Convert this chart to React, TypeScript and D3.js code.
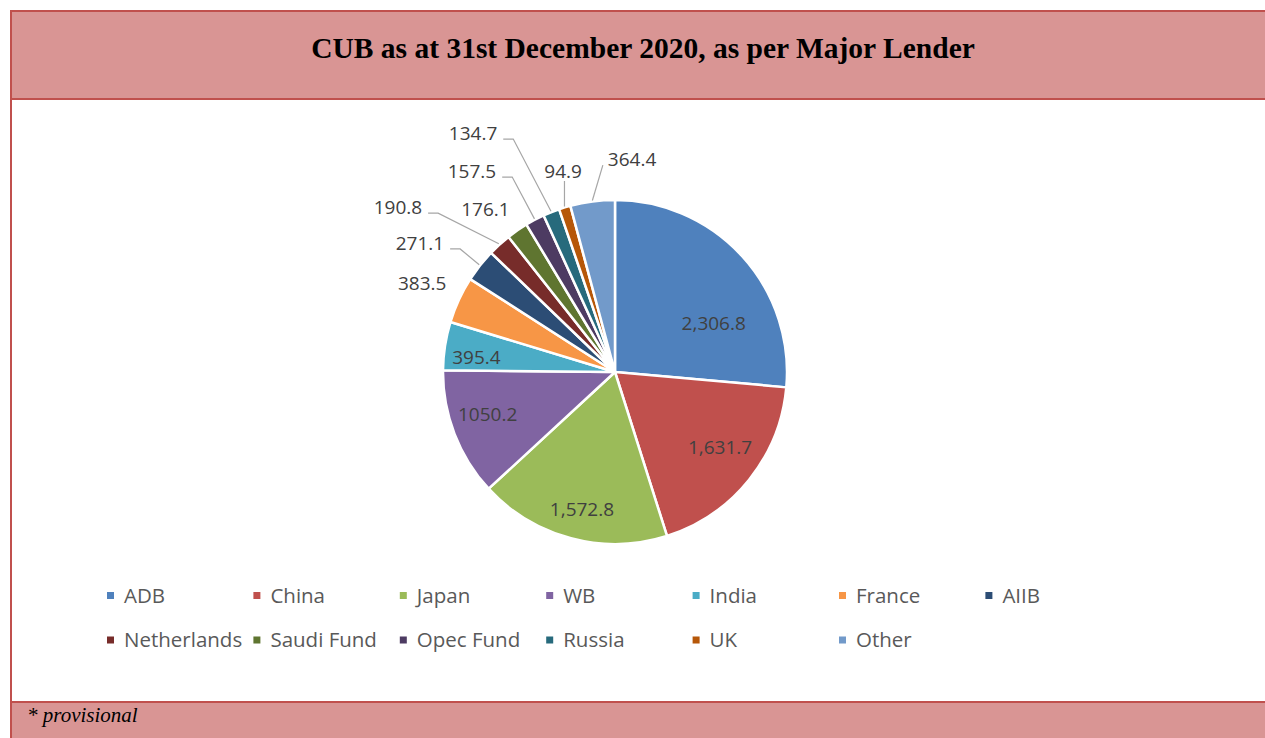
import React, { useEffect, useRef } from 'react';
import * as d3 from 'd3';

// CUB by lender, 31 Dec 2020
const lenders = ['ADB', 'China', 'Japan', 'WB', 'India', 'France', 'AIIB', 'Netherlands', 'Saudi Fund', 'Opec Fund', 'Russia', 'UK', 'Other'];
const amounts = [2306.8, 1631.7, 1572.8, 1050.2, 395.4, 383.5, 271.1, 190.8, 176.1, 157.5, 134.7, 94.9, 364.4];
const amountLabels = ['2,306.8', '1,631.7', '1,572.8', '1050.2', '395.4', '383.5', '271.1', '190.8', '176.1', '157.5', '134.7', '94.9', '364.4'];
const colors = ['#4F81BD', '#C0504D', '#9BBB59', '#8064A2', '#4BACC6', '#F79646', '#2C4D75', '#772C2A', '#5F7530', '#4D3B62', '#276A7C', '#B65708', '#729ACA'];

// label placement: [angle shift from slice middle (deg), distance as share of radius, leader line]
const labelPlacement: [number, number, boolean][] = [
  [16.2, 0.64, false], [-3.3, 0.75, false], [-1.3, 0.82, false], [2.8, 0.78, false], [-2.7, 0.81, false],
  [0, 1.235, false], [-4.8, 1.36, true], [-10.6, 1.585, true], [-3.9, 1.21, false],
  [-7.7, 1.434, true], [-9, 1.616, true], [2.5, 1.207, true], [12.1, 1.242, true]
];

const W = 1265;
const H = 738;

export default function App() {
  const svgRef = useRef<SVGSVGElement>(null);

  useEffect(() => {
    if (!svgRef.current) return;
    const svg = d3.select(svgRef.current);
    svg.selectAll('*').remove();

    const band = '#D99594';
    const edge = '#C0504D';

    // frame: title band, white body, footer band
    svg.append('rect').attr('x', 11).attr('y', 11).attr('width', W + 10).attr('height', 88).attr('fill', band);
    svg.append('rect').attr('x', 11).attr('y', 702).attr('width', W + 10).attr('height', 40).attr('fill', band);
    svg.append('line').attr('x1', 10).attr('x2', W + 10).attr('y1', 11).attr('y2', 11).attr('stroke', edge).attr('stroke-width', 2);
    svg.append('line').attr('x1', 10).attr('x2', W + 10).attr('y1', 99).attr('y2', 99).attr('stroke', edge).attr('stroke-width', 2);
    svg.append('line').attr('x1', 10).attr('x2', W + 10).attr('y1', 702).attr('y2', 702).attr('stroke', edge).attr('stroke-width', 2);
    svg.append('line').attr('x1', 11).attr('x2', 11).attr('y1', 10).attr('y2', H + 5).attr('stroke', edge).attr('stroke-width', 2);

    svg.append('text')
      .attr('x', 643).attr('y', 58)
      .attr('text-anchor', 'middle')
      .attr('font-family', '"Liberation Serif", "Times New Roman", serif')
      .attr('font-weight', 'bold')
      .attr('font-size', 29.5)
      .attr('fill', '#000')
      .text('CUB as at 31st December 2020, as per Major Lender');

    svg.append('text')
      .attr('x', 27).attr('y', 722)
      .attr('font-family', '"Liberation Serif", "Times New Roman", serif')
      .attr('font-style', 'italic')
      .attr('font-size', 21)
      .attr('fill', '#000')
      .text('* provisional');

    // pie
    const cx = 615, cy = 372, r = 172;
    const data = lenders.map((name, i) => ({ name, value: amounts[i], label: amountLabels[i], color: colors[i], i }));
    const pie = d3.pie<any>().sort(null).value(d => d.value);
    const arcs = pie(data);
    const arc = d3.arc<any>().innerRadius(0).outerRadius(r);

    const g = svg.append('g').attr('transform', `translate(${cx},${cy})`);
    g.selectAll('path.slice')
      .data(arcs)
      .enter().append('path')
      .attr('class', 'slice')
      .attr('d', arc)
      .attr('fill', d => d.data.color)
      .attr('stroke', '#fff')
      .attr('stroke-width', 2.5)
      .attr('stroke-linejoin', 'round');

    const font = '"Open Sans", "Noto Sans", sans-serif';
    arcs.forEach((a, i) => {
      const [shift, rf, leader] = labelPlacement[i];
      const mid = (a.startAngle + a.endAngle) / 2;
      const ang = mid + (shift * Math.PI) / 180;
      const lx = Math.sin(ang) * r * rf;
      const ly = -Math.cos(ang) * r * rf;
      const t = g.append('text')
        .attr('x', lx).attr('y', ly)
        .attr('dy', '0.35em')
        .attr('text-anchor', 'middle')
        .attr('font-family', font)
        .attr('font-size', 19)
        .attr('fill', '#404040')
        .text(a.data.label);

      if (leader) {
        const tw = (t.node() as SVGTextElement).getComputedTextLength();
        const left = lx - tw / 2, right = lx + tw / 2, bottom = ly + 6;
        const tx = Math.sin(mid) * (r + 1);
        const ty = -Math.cos(mid) * (r + 1);
        let pts: [number, number][];
        if (tx >= left && tx <= right) {
          pts = [[tx, bottom + 4], [tx, ty]];
        } else if (tx > right) {
          pts = [[right + 6, bottom], [right + 16, bottom], [tx, ty]];
        } else {
          pts = [[left - 5, bottom], [tx, ty]];
        }
        g.append('path')
          .attr('d', d3.line()(pts))
          .attr('fill', 'none')
          .attr('stroke', '#A6A6A6')
          .attr('stroke-width', 1.2);
      }
    });

    // legend
    const perRow = 7;
    const colX = d3.scaleLinear().domain([0, 1]).range([107, 253.4]);
    const rowY = d3.scaleLinear().domain([0, 1]).range([595.5, 640]);
    const lg = svg.append('g');
    data.forEach((d, i) => {
      const x = colX(i % perRow);
      const y = rowY(Math.floor(i / perRow));
      lg.append('rect').attr('x', x).attr('y', y - 3.5).attr('width', 7).attr('height', 7).attr('fill', d.color);
      lg.append('text')
        .attr('x', x + 17).attr('y', y)
        .attr('dy', '0.35em')
        .attr('font-family', font)
        .attr('font-size', 20.5)
        .attr('fill', '#595959')
        .text(d.name);
    });
  }, []);

  return (
    <svg
      ref={svgRef}
      width={W}
      height={H}
      style={{ position: 'absolute', left: 0, top: 0, display: 'block', background: '#fff' }}
    />
  );
}
